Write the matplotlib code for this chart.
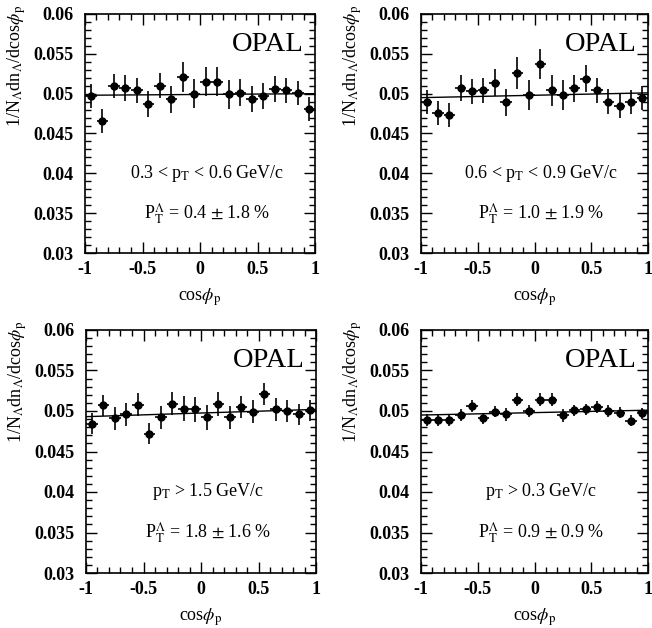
import numpy as np
import matplotlib
matplotlib.use("Agg")
import matplotlib.pyplot as plt
from matplotlib.ticker import MultipleLocator

plt.rcParams['font.family'] = ['Liberation Serif', 'DejaVu Serif']
plt.rcParams['mathtext.fontset'] = 'stix'

# bin centres in cos(phi_p)
cos_phi = [-0.95, -0.85, -0.75, -0.65, -0.55, -0.45, -0.35, -0.25, -0.15, -0.05,
           0.05, 0.15, 0.25, 0.35, 0.45, 0.55, 0.65, 0.75, 0.85, 0.95]

# 0.3 < pT < 0.6
y_a = [0.0497, 0.0466, 0.0510, 0.0507, 0.0504, 0.0487, 0.0510, 0.0493, 0.0521, 0.0500,
       0.0515, 0.0515, 0.0499, 0.0501, 0.0493, 0.0497, 0.0506, 0.0504, 0.0501, 0.0481]
e_a = [0.0015, 0.0015, 0.0015, 0.0016, 0.0016, 0.0016, 0.0016, 0.0017, 0.0019, 0.0018,
       0.0018, 0.0018, 0.0018, 0.0017, 0.0016, 0.0016, 0.0016, 0.0016, 0.0015, 0.0015]
# 0.6 < pT < 0.9
y_b = [0.0490, 0.0476, 0.0473, 0.0507, 0.0503, 0.0504, 0.0514, 0.0489, 0.0526, 0.0498,
       0.0537, 0.0504, 0.0498, 0.0507, 0.0519, 0.0504, 0.0490, 0.0484, 0.0490, 0.0495]
e_b = [0.0015, 0.0015, 0.0015, 0.0016, 0.0016, 0.0016, 0.0017, 0.0017, 0.0020, 0.0019,
       0.0019, 0.0019, 0.0019, 0.0017, 0.0017, 0.0016, 0.0016, 0.0015, 0.0015, 0.0015]
# pT > 1.5
y_c = [0.0484, 0.0507, 0.0491, 0.0496, 0.0508, 0.0472, 0.0492, 0.0509, 0.0503, 0.0502,
       0.0492, 0.0509, 0.0492, 0.0505, 0.0499, 0.0521, 0.0502, 0.0500, 0.0496, 0.0501]
e_c = [0.0013, 0.0013, 0.0014, 0.0014, 0.0014, 0.0013, 0.0014, 0.0014, 0.0015, 0.0015,
       0.0015, 0.0015, 0.0014, 0.0014, 0.0014, 0.0014, 0.0014, 0.0013, 0.0013, 0.0013]
# pT > 0.3
y_d = [0.0489, 0.0489, 0.0489, 0.0495, 0.0506, 0.0491, 0.0499, 0.0496, 0.0514, 0.0500,
       0.0514, 0.0514, 0.0495, 0.0501, 0.0502, 0.0505, 0.0500, 0.0498, 0.0488, 0.0497]
e_d = [0.0007, 0.0007, 0.0007, 0.0007, 0.0007, 0.0007, 0.0007, 0.0008, 0.0008, 0.0008,
       0.0008, 0.0008, 0.0008, 0.0007, 0.0007, 0.0007, 0.0007, 0.0007, 0.0007, 0.0007]

# fitted line values at cos = -1 and cos = +1
fit_a = [0.0498, 0.0500]
fit_b = [0.0495, 0.0501]
fit_c = [0.0493, 0.0502]
fit_d = [0.0495, 0.0501]

cut_labels = [r"0.3 < p$_\mathrm{T}$ < 0.6 GeV/c", r"0.6 < p$_\mathrm{T}$ < 0.9 GeV/c",
              r"p$_\mathrm{T}$ > 1.5 GeV/c", r"p$_\mathrm{T}$ > 0.3 GeV/c"]
pol_labels = [r"P$_\mathrm{T}^\Lambda$ = 0.4 $\pm$ 1.8 %", r"P$_\mathrm{T}^\Lambda$ = 1.0 $\pm$ 1.9 %",
              r"P$_\mathrm{T}^\Lambda$ = 1.8 $\pm$ 1.6 %", r"P$_\mathrm{T}^\Lambda$ = 0.9 $\pm$ 0.9 %"]

panels = [(y_a, e_a, fit_a), (y_b, e_b, fit_b), (y_c, e_c, fit_c), (y_d, e_d, fit_d)]

W, H = 652, 628
fig = plt.figure(figsize=(W / 100, H / 100), dpi=100)

# axes boxes in pixels: left, top, right, bottom
boxes = [(85, 14, 315, 253), (421, 14, 648, 253),
         (86, 330, 316, 573), (421, 330, 648, 573)]

for i, (l, t, r, b) in enumerate(boxes):
    ax = fig.add_axes([l / W, (H - b) / H, (r - l) / W, (b - t) / H])
    ys, es, fit = panels[i]
    ax.errorbar(cos_phi, ys, yerr=es, xerr=0.05, fmt='o', color='black',
                ms=5, elinewidth=1.2, capsize=0)
    ax.plot([-1, 1], fit, color='black', lw=1)
    ax.set_xlim(-1, 1)
    ax.set_ylim(0.03, 0.06)
    ax.xaxis.set_minor_locator(MultipleLocator(0.1))
    ax.yaxis.set_minor_locator(MultipleLocator(0.001))
    ax.set_xticks([-1, -0.5, 0, 0.5, 1])
    ax.set_xticklabels(['-1', '-0.5', '0', '0.5', '1'])
    ax.set_yticks([0.03, 0.035, 0.04, 0.045, 0.05, 0.055, 0.06])
    ax.set_yticklabels(['0.03', '0.035', '0.04', '0.045', '0.05', '0.055', '0.06'])
    ax.tick_params(which='both', direction='in', top=True, right=True, width=1)
    ax.tick_params(which='major', length=8)
    ax.tick_params(which='minor', length=4)
    ax.tick_params(axis='x', pad=6)
    ax.tick_params(axis='y', pad=8)
    for lab in ax.get_xticklabels() + ax.get_yticklabels():
        lab.set_fontweight('bold')
        lab.set_fontsize(13)
    for sp in ax.spines.values():
        sp.set_linewidth(1.2)
    ax.set_xlabel(r"cos$\phi_\mathrm{p}$", fontsize=13, labelpad=6)
    ax.text(0.9, 0.0562, "OPAL", ha='right', va='center', fontsize=20.5)
    ax.text(0.06, 0.040, cut_labels[i], ha='center', va='center', fontsize=13)
    ax.text(0.06, 0.035, pol_labels[i], ha='center', va='center', fontsize=13)
    fig.text((l - 68) / W, (H - t + 9) / H,
             r"1/N$_\Lambda$dn$_\Lambda$/dcos$\phi_\mathrm{p}$",
             rotation=90, ha='center', va='top', fontsize=13)

fig.savefig("out.png", dpi=100)
